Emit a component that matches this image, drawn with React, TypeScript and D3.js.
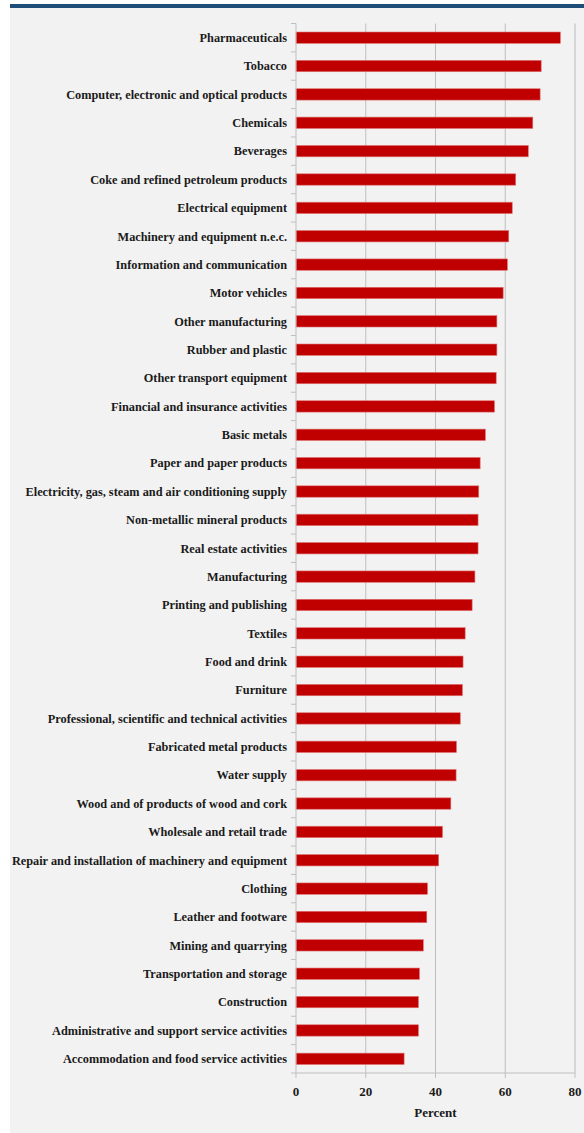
import React from "react";
import * as d3 from "d3";

const categories: string[] = [
  "Pharmaceuticals",
  "Tobacco",
  "Computer, electronic and optical products",
  "Chemicals",
  "Beverages",
  "Coke and refined petroleum products",
  "Electrical equipment",
  "Machinery and equipment n.e.c.",
  "Information and communication",
  "Motor vehicles",
  "Other manufacturing",
  "Rubber and plastic",
  "Other transport equipment",
  "Financial and insurance activities",
  "Basic metals",
  "Paper and paper products",
  "Electricity, gas, steam and air conditioning supply",
  "Non-metallic mineral products",
  "Real estate activities",
  "Manufacturing",
  "Printing and publishing",
  "Textiles",
  "Food and drink",
  "Furniture",
  "Professional, scientific and technical activities",
  "Fabricated metal products",
  "Water supply",
  "Wood and of products of wood and cork",
  "Wholesale and retail trade",
  "Repair and installation of machinery and equipment",
  "Clothing",
  "Leather and footware",
  "Mining and quarrying",
  "Transportation and storage",
  "Construction",
  "Administrative and support service activities",
  "Accommodation and food service activities",
];

const values: number[] = [
  75.8, 70.3, 70.0, 67.9, 66.6, 63.0, 62.0, 61.0, 60.6, 59.4,
  57.6, 57.6, 57.4, 56.9, 54.3, 52.8, 52.4, 52.2, 52.2, 51.3,
  50.5, 48.5, 47.9, 47.7, 47.1, 46.0, 45.9, 44.4, 42.0, 40.9,
  37.7, 37.5, 36.5, 35.4, 35.1, 35.1, 31.0,
];

const xTicks: number[] = [0, 20, 40, 60, 80];
const xTitle = "Percent";

const W = 584;
const H = 1133;
const plotLeft = 296;
const plotRight = 575;
const plotTop = 23.5;
const plotBottom = 1073;

export default function App() {
  const x = d3.scaleLinear().domain([0, 80]).range([plotLeft, plotRight]);
  const y = d3
    .scaleBand<string>()
    .domain(categories)
    .range([plotTop, plotBottom])
    .paddingInner(0.6)
    .paddingOuter(0.3);
  const font = "'Liberation Serif', 'Times New Roman', serif";
  const boundaries = d3.range(categories.length + 1).map(
    (i) => plotTop + i * ((plotBottom - plotTop) / categories.length)
  );
  const gridColor = "#bfbfbf";

  return (
    <svg
      width={W}
      height={H}
      style={{ position: "absolute", left: 0, top: 0, display: "block" }}
    >
      <rect x={0} y={0} width={W} height={H} fill="#ffffff" />
      <rect x={10} y={8} width={W - 10} height={H - 8} fill="#f2f2f2" />
      <rect x={10} y={4} width={W - 10} height={4} fill="#1f4e79" />

      {/* gridlines */}
      {xTicks.slice(1).map((t) => (
        <line
          key={"g" + t}
          x1={x(t)}
          x2={x(t)}
          y1={plotTop}
          y2={plotBottom}
          stroke={t === 80 ? "#cccccc" : gridColor}
          strokeWidth={t === 80 ? 1.5 : 1}
        />
      ))}

      {/* bars */}
      {categories.map((c, i) => (
        <rect
          key={c}
          x={x(0)}
          y={y(c)}
          width={x(values[i]) - x(0)}
          height={y.bandwidth()}
          fill="#c00000"
          stroke="#e07070"
          strokeWidth={0.6}
        />
      ))}

      {/* y axis */}
      <line
        x1={x(0)}
        x2={x(0)}
        y1={plotTop}
        y2={plotBottom}
        stroke={gridColor}
        strokeWidth={1}
      />
      {boundaries.map((b, i) => (
        <line
          key={"yt" + i}
          x1={x(0) - 5}
          x2={x(0)}
          y1={b}
          y2={b}
          stroke={gridColor}
          strokeWidth={1}
        />
      ))}
      {categories.map((c) => (
        <text
          key={"l" + c}
          x={287}
          y={(y(c) as number) + y.bandwidth() / 2}
          dy="0.35em"
          textAnchor="end"
          fontFamily={font}
          fontWeight="bold"
          fontSize={12.3}
          fill="#1a1a1a"
        >
          {c}
        </text>
      ))}

      {/* x axis */}
      <line
        x1={x(0)}
        x2={x(80)}
        y1={plotBottom}
        y2={plotBottom}
        stroke={gridColor}
        strokeWidth={1}
      />
      {xTicks.map((t) => (
        <line
          key={"xt" + t}
          x1={x(t)}
          x2={x(t)}
          y1={plotBottom}
          y2={plotBottom + 5}
          stroke={gridColor}
          strokeWidth={1}
        />
      ))}
      {xTicks.map((t) => (
        <text
          key={"xl" + t}
          x={x(t)}
          y={1096}
          textAnchor="middle"
          fontFamily={font}
          fontWeight="bold"
          fontSize={13}
          fill="#1a1a1a"
        >
          {t}
        </text>
      ))}
      <text
        x={(plotLeft + plotRight) / 2}
        y={1117}
        textAnchor="middle"
        fontFamily={font}
        fontWeight="bold"
        fontSize={13}
        fill="#1a1a1a"
      >
        {xTitle}
      </text>
    </svg>
  );
}
